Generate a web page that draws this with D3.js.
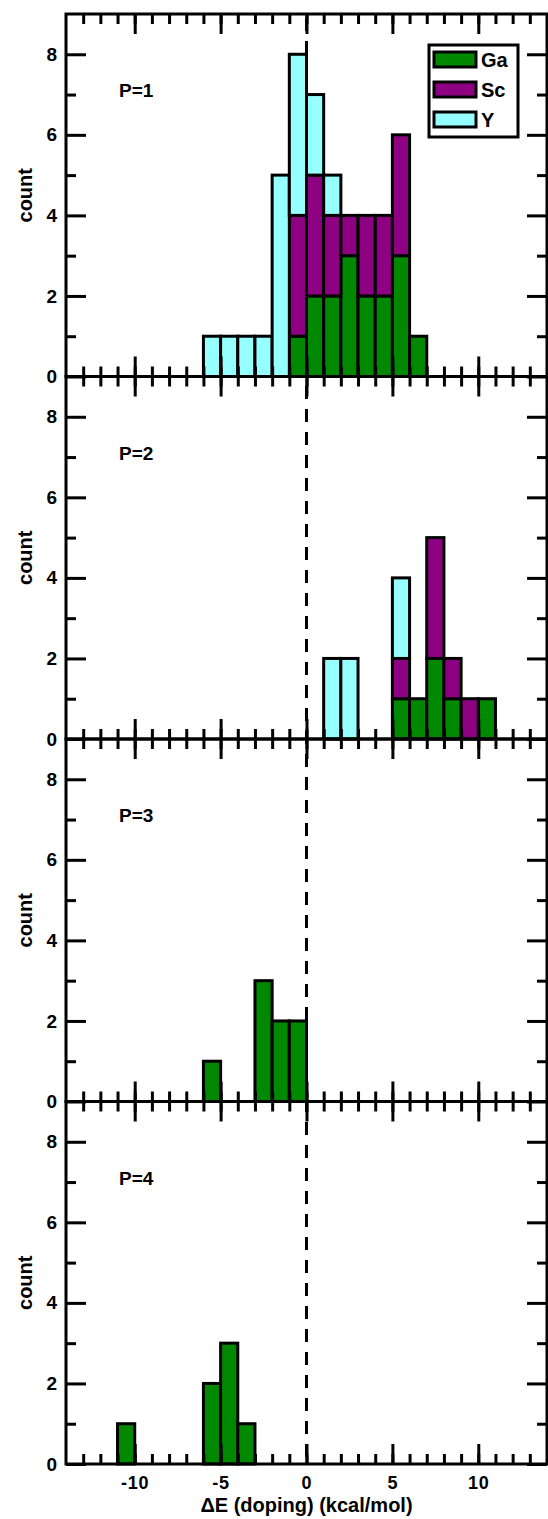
<!DOCTYPE html>
<html>
<head>
<meta charset="utf-8">
<script src="https://cdnjs.cloudflare.com/ajax/libs/d3/7.8.5/d3.min.js"></script>
<style>
    body { margin: 0; background: #fff; }
    svg text { font-family: "Liberation Sans", Arial, sans-serif; font-weight: bold; }
</style>
</head>
<body>
<div id="chart"></div>
<script>
// bin left edges (each bin is 1 kcal/mol wide)
var bins = [-11, -10, -9, -8, -7, -6, -5, -4, -3, -2, -1, 0, 1, 2, 3, 4, 5, 6, 7, 8, 9, 10];

var series = ["Ga", "Sc", "Y"];
var colors = ["#008800", "#8e0082", "#96ffff"];
var panelLabels = ["P=1", "P=2", "P=3", "P=4"];

// counts per bin, one array per dopant, for each P
var p1_Ga = [0,0,0,0,0,0,0,0,0,0,1,2,2,3,2,2,3,1,0,0,0,0];
var p1_Sc = [0,0,0,0,0,0,0,0,0,0,3,3,2,1,2,2,3,0,0,0,0,0];
var p1_Y  = [0,0,0,0,0,1,1,1,1,5,4,2,1,0,0,0,0,0,0,0,0,0];

var p2_Ga = [0,0,0,0,0,0,0,0,0,0,0,0,0,0,0,0,1,1,2,1,0,1];
var p2_Sc = [0,0,0,0,0,0,0,0,0,0,0,0,0,0,0,0,1,0,3,1,1,0];
var p2_Y  = [0,0,0,0,0,0,0,0,0,0,0,0,2,2,0,0,2,0,0,0,0,0];

var p3_Ga = [0,0,0,0,0,1,0,0,3,2,2,0,0,0,0,0,0,0,0,0,0,0];
var p3_Sc = [0,0,0,0,0,0,0,0,0,0,0,0,0,0,0,0,0,0,0,0,0,0];
var p3_Y  = [0,0,0,0,0,0,0,0,0,0,0,0,0,0,0,0,0,0,0,0,0,0];

var p4_Ga = [1,0,0,0,0,2,3,1,0,0,0,0,0,0,0,0,0,0,0,0,0,0];
var p4_Sc = [0,0,0,0,0,0,0,0,0,0,0,0,0,0,0,0,0,0,0,0,0,0];
var p4_Y  = [0,0,0,0,0,0,0,0,0,0,0,0,0,0,0,0,0,0,0,0,0,0];

var panels = [
    [p1_Ga, p1_Sc, p1_Y],
    [p2_Ga, p2_Sc, p2_Y],
    [p3_Ga, p3_Sc, p3_Y],
    [p4_Ga, p4_Sc, p4_Y]
];

var xMajor = [-10, -5, 0, 5, 10];
var xMinor = [-13,-12,-11,-10,-9,-8,-7,-6,-5,-4,-3,-2,-1,0,1,2,3,4,5,6,7,8,9,10,11,12,13];
var yMajor = [0, 2, 4, 6, 8];
var yMinor = [1, 3, 5, 7];

var svg_w = 548, svg_h = 1519;
var m_left = 66, m_right = 547, m_top = 14, panel_h = 362.5;
var lw = 3;

var svg = d3.select("#chart")
    .append("svg")
    .attr("width", svg_w)
    .attr("height", svg_h);

var x = d3.scaleLinear().domain([-14, 14]).range([m_left, m_right]);
var y = d3.scaleLinear().domain([0, 9]).range([panel_h, 0]);

function tickStyle(g) {
    g.select(".domain").remove();
    g.selectAll("line").attr("stroke", "#000").attr("stroke-width", lw);
    g.selectAll("text").attr("fill", "#000").style("font-size", "19px");
}

// zero line through all panels
svg.append("line")
    .attr("x1", x(0)).attr("x2", x(0))
    .attr("y1", m_top).attr("y2", m_top + 4 * panel_h)
    .style("stroke", "#000")
    .style("stroke-width", 3)
    .style("stroke-dasharray", "13,10")
    .style("stroke-dashoffset", -4);

panels.forEach(function (counts, p) {
    var g = svg.append("g")
        .attr("transform", "translate(0," + (m_top + p * panel_h) + ")");

    // stacked bins
    var rows = bins.map(function (b, i) {
        var r = {bin: b};
        series.forEach(function (s, k) { r[s] = counts[k][i]; });
        return r;
    });
    var stacked = d3.stack().keys(series)(rows);

    stacked.forEach(function (layer, k) {
        g.append("g")
            .selectAll("rect")
            .data(layer.filter(function (d) { return d[1] > d[0]; }))
            .enter()
            .append("rect")
            .attr("x", function (d) { return x(d.data.bin); })
            .attr("width", function (d) { return x(d.data.bin + 1) - x(d.data.bin); })
            .attr("y", function (d) { return y(d[1]); })
            .attr("height", function (d) { return y(d[0]) - y(d[1]); })
            .style("fill", colors[k])
            .style("stroke", "#000")
            .style("stroke-width", lw);
    });

    // ticks on all four sides, pointing in
    g.append("g").attr("transform", "translate(0," + panel_h + ")")
        .call(d3.axisBottom(x).tickValues(xMinor).tickSize(-10).tickFormat(""))
        .call(tickStyle);
    g.append("g").attr("transform", "translate(0," + panel_h + ")")
        .call(d3.axisBottom(x).tickValues(xMajor).tickSize(-20).tickPadding(12)
            .tickFormat(function (d) { return p == 3 ? String(d) : ""; }))
        .call(tickStyle)
        .selectAll("text").style("font-size", "18px").style("letter-spacing", "0.8px");
    g.append("g")
        .call(d3.axisTop(x).tickValues(xMinor).tickSize(-10).tickFormat(""))
        .call(tickStyle);
    g.append("g")
        .call(d3.axisTop(x).tickValues(xMajor).tickSize(-20).tickFormat(""))
        .call(tickStyle);

    g.append("g").attr("transform", "translate(" + m_left + ",0)")
        .call(d3.axisLeft(y).tickValues(yMajor).tickSize(-20).tickPadding(9))
        .call(tickStyle);
    g.append("g").attr("transform", "translate(" + m_left + ",0)")
        .call(d3.axisLeft(y).tickValues(yMinor).tickSize(-10).tickFormat(""))
        .call(tickStyle);
    g.append("g").attr("transform", "translate(" + m_right + ",0)")
        .call(d3.axisRight(y).tickValues(yMajor).tickSize(-20).tickFormat(""))
        .call(tickStyle);
    g.append("g").attr("transform", "translate(" + m_right + ",0)")
        .call(d3.axisRight(y).tickValues(yMinor).tickSize(-10).tickFormat(""))
        .call(tickStyle);

    // frame
    g.append("rect")
        .attr("x", m_left).attr("y", 0)
        .attr("width", m_right - m_left).attr("height", panel_h)
        .style("fill", "none").style("stroke", "#000").style("stroke-width", lw);

    g.append("text")
        .attr("x", 119).attr("y", 83)
        .style("font-size", "19px")
        .text(panelLabels[p]);

    g.append("text")
        .attr("transform", "translate(32," + (panel_h / 2) + ") rotate(-90)")
        .attr("text-anchor", "middle")
        .style("font-size", "20px")
        .text("count");
});

// legend
var legend = svg.append("g").attr("id", "legend");
legend.append("rect")
    .attr("x", 429).attr("y", 45).attr("width", 89).attr("height", 92)
    .style("fill", "#fff").style("stroke", "#000").style("stroke-width", lw);
series.forEach(function (s, k) {
    legend.append("rect")
        .attr("x", 434).attr("y", 52 + k * 30).attr("width", 42).attr("height", 15)
        .style("fill", colors[k]).style("stroke", "#000").style("stroke-width", 3);
    legend.append("text")
        .attr("x", 481).attr("y", 67 + k * 30)
        .style("font-size", "20px")
        .text(s);
});

svg.append("text")
    .attr("x", x(0)).attr("y", 1512)
    .attr("text-anchor", "middle")
    .style("font-size", "20px")
    .text("\u0394E (doping) (kcal/mol)");
</script>
</body>
</html>
